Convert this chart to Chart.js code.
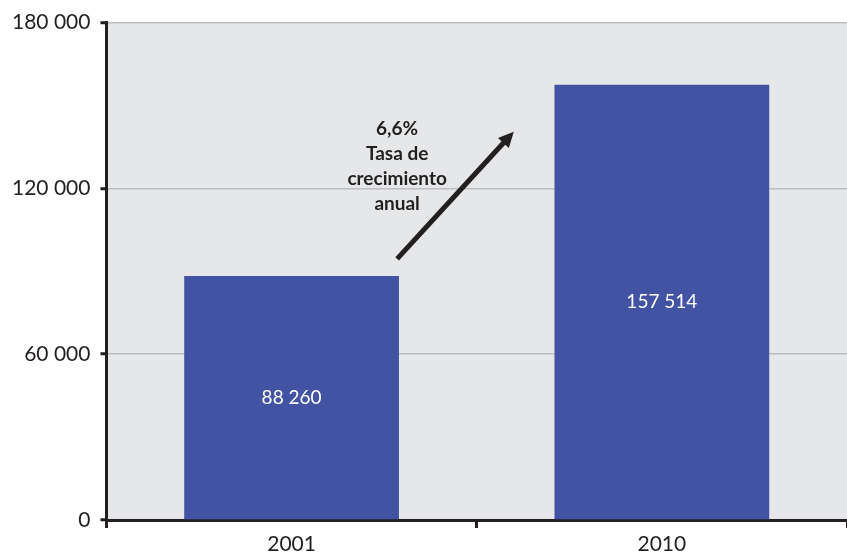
<!DOCTYPE html>
<html>
<head>
<meta charset="utf-8">
<script src="https://cdn.jsdelivr.net/npm/chart.js@4.4.1/dist/chart.umd.min.js"></script>
<style>
  html, body { margin: 0; padding: 0; background: #ffffff; }
  #wrap { width: 847px; height: 554px; position: relative; }
</style>
</head>
<body>
<div id="wrap"><canvas id="chart"></canvas></div>
<script>
// Datos del gráfico
const years = ['2001', '2010'];
const population = [88260, 157514];
const yTicks = [0, 60000, 120000, 180000];
const noteLines = ['6,6%', 'Tasa de', 'crecimiento', 'anual'];

const fontFamily = 'Lato, "Open Sans", sans-serif';
const inkColor = '#231f20';

function formatThousands(v) {
    return String(v).replace(/\B(?=(\d{3})+(?!\d))/g, ' ');
}

// Fondo gris del área del gráfico
const plotBackground = {
    id: 'plotBackground',
    beforeDraw(chart) {
        const { ctx, chartArea: a } = chart;
        ctx.save();
        ctx.fillStyle = '#e6e7e9';
        ctx.fillRect(a.left, a.top, a.right - a.left, a.bottom - a.top);
        ctx.restore();
    }
};

// Etiquetas blancas dentro de las barras
const barLabels = {
    id: 'barLabels',
    afterDatasetsDraw(chart) {
        const { ctx } = chart;
        const meta = chart.getDatasetMeta(0);
        ctx.save();
        ctx.fillStyle = '#ffffff';
        ctx.font = '19px ' + fontFamily;
        ctx.textAlign = 'center';
        ctx.textBaseline = 'middle';
        meta.data.forEach((bar, i) => {
            const mid = (bar.y + bar.base) / 2;
            ctx.fillText(formatThousands(population[i]), bar.x, mid);
        });
        ctx.restore();
    }
};

// Flecha y texto de la tasa de crecimiento
const growthArrow = {
    id: 'growthArrow',
    afterDatasetsDraw(chart) {
        const { ctx, scales: { x, y } } = chart;
        const x0 = x.getPixelForValue(0.285), y0 = y.getPixelForValue(94500);
        const x1 = x.getPixelForValue(0.6), y1 = y.getPixelForValue(140500);
        const ang = Math.atan2(y1 - y0, x1 - x0);
        const head = 17;
        ctx.save();
        ctx.strokeStyle = inkColor;
        ctx.fillStyle = inkColor;
        ctx.lineWidth = 5;
        ctx.beginPath();
        ctx.moveTo(x0, y0);
        ctx.lineTo(x1 - Math.cos(ang) * head * 0.8, y1 - Math.sin(ang) * head * 0.8);
        ctx.stroke();
        ctx.beginPath();
        ctx.moveTo(x1, y1);
        ctx.lineTo(x1 - head * Math.cos(ang - 0.45), y1 - head * Math.sin(ang - 0.45));
        ctx.lineTo(x1 - head * Math.cos(ang + 0.45), y1 - head * Math.sin(ang + 0.45));
        ctx.closePath();
        ctx.fill();

        ctx.font = 'bold 19px ' + fontFamily;
        ctx.textAlign = 'center';
        ctx.textBaseline = 'middle';
        const tx = x.getPixelForValue(0.285);
        let ty = y.getPixelForValue(141500);
        noteLines.forEach(line => {
            ctx.fillText(line, tx, ty);
            ty += 25;
        });
        ctx.restore();
    }
};

new Chart(document.getElementById('chart'), {
    type: 'bar',
    data: {
        labels: years,
        datasets: [{
            data: population,
            backgroundColor: '#4353a3',
            borderWidth: 0,
            barPercentage: 0.58,
            categoryPercentage: 1
        }]
    },
    options: {
        responsive: true,
        maintainAspectRatio: false,
        animation: false,
        layout: { padding: { left: 2, right: 0, top: 15, bottom: -7 } },
        plugins: { legend: { display: false }, tooltip: { enabled: false } },
        scales: {
            x: {
                grid: { drawOnChartArea: false, offset: true, tickLength: 8, tickWidth: 3, tickColor: inkColor },
                border: { display: true, color: inkColor, width: 3 },
                ticks: { color: inkColor, font: { family: fontFamily, size: 21, lineHeight: 1 }, padding: 6 }
            },
            y: {
                min: 0,
                max: 180000,
                afterBuildTicks(scale) { scale.ticks = yTicks.map(v => ({ value: v })); },
                grid: { color: '#bcbdc0', lineWidth: 1.5, tickLength: 6, tickWidth: 3, tickColor: inkColor },
                border: { display: true, color: inkColor, width: 3 },
                ticks: { color: inkColor, font: { family: fontFamily, size: 21 }, padding: 10, callback: v => formatThousands(v) }
            }
        }
    },
    plugins: [plotBackground, barLabels, growthArrow]
});
</script>
</body>
</html>
